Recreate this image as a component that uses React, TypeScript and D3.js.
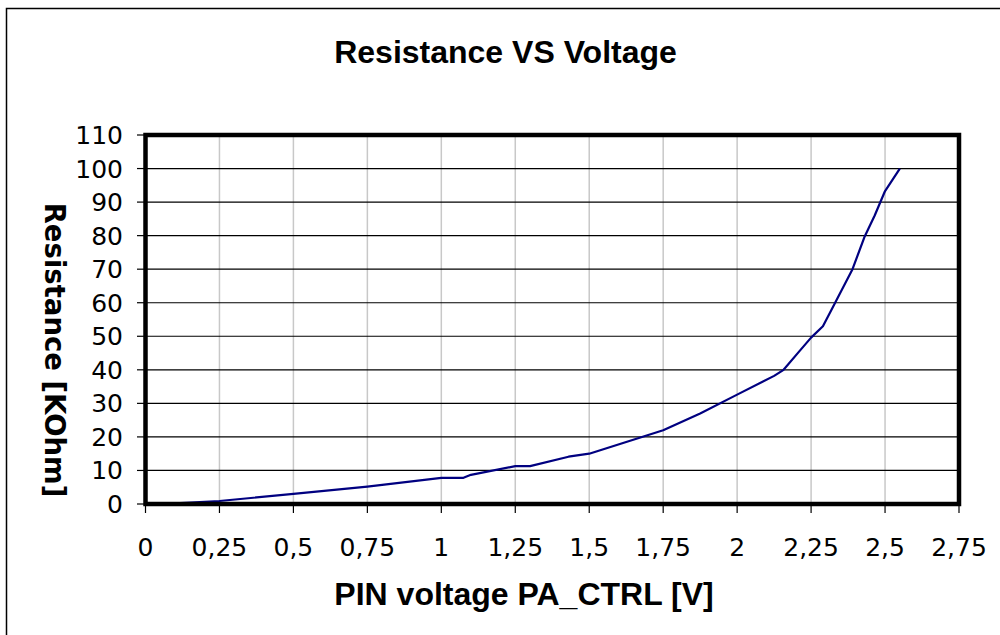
import React from "react";
import * as d3 from "d3";

const voltage = [0, 0.1, 0.25, 0.5, 0.75, 1.0, 1.075, 1.1, 1.25, 1.3, 1.43, 1.5, 1.75, 1.875, 2.0, 2.125, 2.157, 2.21, 2.25, 2.29, 2.33, 2.365, 2.39, 2.43, 2.465, 2.5, 2.55];
const resistance = [0, 0.2, 0.9, 3.0, 5.2, 7.8, 7.8, 8.7, 11.3, 11.3, 14.1, 15, 22, 27, 32.6, 38.2, 40, 45.5, 49.6, 53, 59.8, 65.7, 70, 79.5, 86, 93.3, 100];
const xTicks = [0, 0.25, 0.5, 0.75, 1, 1.25, 1.5, 1.75, 2, 2.25, 2.5, 2.75];
const yTicks = [0, 10, 20, 30, 40, 50, 60, 70, 80, 90, 100, 110];
const title = "Resistance VS Voltage";
const xTitle = "PIN voltage PA_CTRL [V]";
const yTitle = "Resistance [KOhm]";

const W = 1000;
const H = 635;
const L = 145.5, R = 959, T = 135, B = 504;

export default function App() {
  const x = d3.scaleLinear().domain([0, 2.75]).range([L, R]);
  const y = d3.scaleLinear().domain([0, 110]).range([B, T]);
  const pts: [number, number][] = voltage.map((v, i) => [v, resistance[i]]);
  const line = d3.line<[number, number]>().x(d => x(d[0])).y(d => y(d[1]));
  const fmt = (v: number) => String(v).replace(".", ",");
  const tickFont = "'DejaVu Sans', Verdana, sans-serif";
  const boldFont = "'Liberation Sans', Arial, sans-serif";
  return (
    <svg width={W} height={H} style={{ position: "absolute", left: 0, top: 0, background: "#fff" }}>
      <rect x={0} y={0} width={W} height={H} fill="#fff" />
      <rect x={6.5} y={8.5} width={W + 20} height={H + 20} fill="none" stroke="#000" strokeWidth={1.5} />
      <text x={505.5} y={63} textAnchor="middle" fontFamily={boldFont} fontWeight="bold" fontSize={32}>{title}</text>
      {/* vertical gridlines */}
      {xTicks.map(t => (
        <line key={"vx" + t} x1={x(t)} x2={x(t)} y1={T} y2={B} stroke="#c8c8c8" strokeWidth={1.5} />
      ))}
      {/* horizontal gridlines */}
      {yTicks.map(t => (
        <line key={"hy" + t} x1={L} x2={R} y1={y(t)} y2={y(t)} stroke="#000" strokeWidth={1.2} />
      ))}
      {/* ticks */}
      {yTicks.map(t => (
        <line key={"ty" + t} x1={137} x2={L} y1={y(t)} y2={y(t)} stroke="#000" strokeWidth={1.2} />
      ))}
      {xTicks.map(t => (
        <line key={"tx" + t} x1={x(t)} x2={x(t)} y1={B} y2={B + 9} stroke="#000" strokeWidth={1.2} />
      ))}
      {/* data line */}
      <path d={line(pts) || ""} fill="none" stroke="#000080" strokeWidth={2.2} strokeLinejoin="round" />
      {/* plot frame */}
      <rect x={L} y={T} width={R - L} height={B - T} fill="none" stroke="#000" strokeWidth={4.5} />
      {/* tick labels */}
      {yTicks.map(t => (
        <text key={"ly" + t} x={123} y={y(t) + 9} textAnchor="end" fontFamily={tickFont} fontSize={25}>{fmt(t)}</text>
      ))}
      {xTicks.map(t => (
        <text key={"lx" + t} x={x(t)} y={556} textAnchor="middle" fontFamily={tickFont} fontSize={25}>{fmt(t)}</text>
      ))}
      <text x={524} y={605} textAnchor="middle" fontFamily={boldFont} fontWeight="bold" fontSize={32}>{xTitle}</text>
      <text transform="translate(45,350) rotate(90)" textAnchor="middle" fontFamily="'DejaVu Sans', Verdana, sans-serif" fontWeight="bold" fontSize={27.5}>{yTitle}</text>
    </svg>
  );
}
